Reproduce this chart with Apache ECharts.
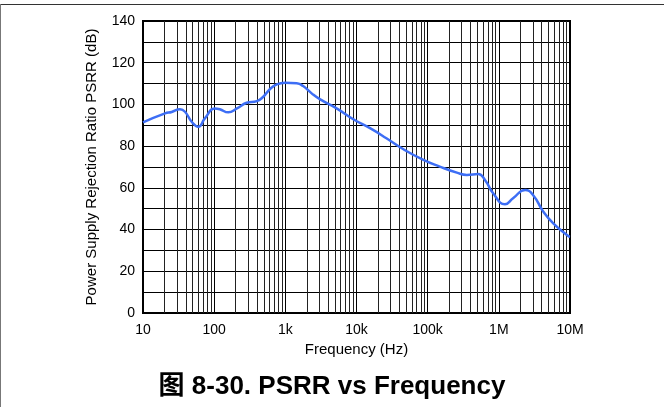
<!DOCTYPE html>
<html>
<head>
<meta charset="utf-8">
<script src="https://cdn.jsdelivr.net/npm/echarts@6/dist/echarts.min.js"></script>
<style>
html,body{margin:0;padding:0;background:#fff;}
#c{width:664px;height:407px;}
</style>
</head>
<body>
<div id="c"></div>
<script>
// ---- data ----
const freqHz = [10, 20.4, 25.3, 33.1, 38.9, 48.3, 59.8, 74.1, 102, 120, 158, 209, 286, 398, 490, 605, 759, 989, 1445, 1778, 2344, 3090, 5248, 9016, 15488, 26303, 45709, 87096, 147911, 257040, 354813, 512861, 638263, 831764, 1220000, 1585000, 2344000, 3020000, 4217000, 5820000, 9440000, 10000000];
const psrrDb = [91.4, 95.7, 96.4, 97.7, 96.5, 91.7, 89.3, 93.3, 98.1, 97.7, 96.2, 98.1, 100.8, 101.6, 103.7, 107.3, 109.6, 110.4, 110.1, 108.8, 105.3, 102.4, 98.1, 92.9, 88.6, 83.8, 78.5, 73.4, 70.2, 67.3, 66.2, 66.6, 63.8, 57.4, 52.1, 55.0, 59.0, 56.6, 48.6, 43.0, 36.9, 36.5];
const xTickValues = [10, 100, 1000, 10000, 100000, 1000000, 10000000];
const xTickLabels = ['10', '100', '1k', '10k', '100k', '1M', '10M'];
const yTickLabels = [0, 20, 40, 60, 80, 100, 120, 140];
const minorMultipliers = [2, 3, 4, 5, 6, 7, 8, 9];
const decades = [10, 100, 1000, 10000, 100000, 1000000];
const titleText = '图 8-30. PSRR vs Frequency';
const xName = 'Frequency (Hz)';
const yName = 'Power Supply Rejection Ratio PSRR (dB)';

// ---- build ----
const seriesData = freqHz.map((f, i) => [f, psrrDb[i]]);
const minorLines = [];
decades.forEach(d => minorMultipliers.forEach(m => minorLines.push({ xAxis: d * m })));

const FONT = '"Liberation Sans", Arial, Helvetica, sans-serif';
const chart = echarts.init(document.getElementById('c'), null, { renderer: 'canvas' });
chart.setOption({
  animation: false,
  backgroundColor: '#fff',
  title: {
    text: titleText,
    left: 'center',
    top: 369,
    textStyle: { fontFamily: '"Liberation Sans", "Noto Sans CJK SC", Arial, sans-serif', fontSize: 26, fontWeight: 'bold', color: '#000' }
  },
  graphic: [
    { type: 'line', shape: { x1: 0, y1: 4.5, x2: 664, y2: 4.5 }, style: { stroke: '#333', lineWidth: 1 } },
    { type: 'line', shape: { x1: 0.5, y1: 4, x2: 0.5, y2: 407 }, style: { stroke: '#777', lineWidth: 1 } }
  ],
  grid: {
    left: 143, right: 94, top: 21, bottom: 94,
    show: true, borderColor: '#000', borderWidth: 2, backgroundColor: 'transparent'
  },
  xAxis: {
    type: 'log',
    logBase: 10,
    min: 10,
    max: 10000000,
    name: xName,
    nameLocation: 'middle',
    nameGap: 26,
    nameTextStyle: { fontFamily: FONT, fontSize: 15, color: '#000' },
    axisLine: { show: true, lineStyle: { color: '#000', width: 2 } },
    axisTick: { show: false },
    axisLabel: {
      fontFamily: FONT, fontSize: 14, color: '#000', margin: 10,
      formatter: v => {
        const i = xTickValues.findIndex(t => Math.abs(Math.log10(t) - Math.log10(v)) < 1e-6);
        return i >= 0 ? xTickLabels[i] : '';
      }
    },
    splitLine: { show: true, lineStyle: { color: '#000', width: 1 } }
  },
  yAxis: {
    type: 'value',
    min: 0,
    max: 140,
    interval: 10,
    name: yName,
    nameLocation: 'middle',
    nameGap: 44,
    nameTextStyle: { fontFamily: FONT, fontSize: 15, color: '#000' },
    axisLine: { show: true, lineStyle: { color: '#000', width: 2 } },
    axisTick: { show: false },
    axisLabel: {
      fontFamily: FONT, fontSize: 14, color: '#000', margin: 8,
      formatter: v => (yTickLabels.indexOf(v) >= 0 ? String(v) : '')
    },
    splitLine: { show: true, lineStyle: { color: '#000', width: 1 } }
  },
  series: [{
    type: 'line',
    data: seriesData,
    smooth: 0.5,
    showSymbol: false,
    symbol: 'none',
    lineStyle: { color: '#3d6ef5', width: 2.5 },
    z: 5,
    markLine: {
      silent: true,
      symbol: 'none',
      label: { show: false },
      lineStyle: { color: '#222', width: 1, type: 'solid' },
      data: minorLines,
      z: 1
    }
  }]
});
</script>
</body>
</html>
